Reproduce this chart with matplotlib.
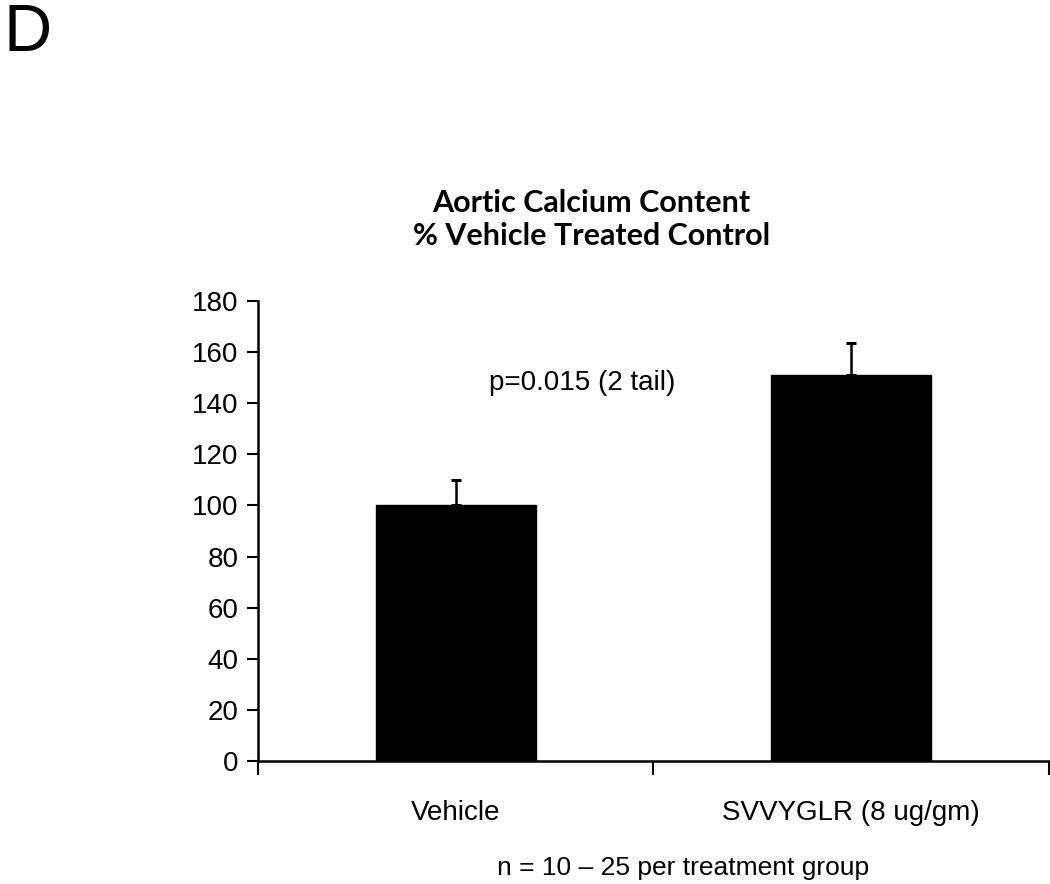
import matplotlib
matplotlib.use("Agg")
import matplotlib.pyplot as plt

groups = ["Vehicle", "SVVYGLR (8 ug/gm)"]
calcium_pct = [100, 151]
sem_upper = [10, 12.5]
y_ticks = [0, 20, 40, 60, 80, 100, 120, 140, 160, 180]

plt.rcParams["font.family"] = ["Liberation Sans", "DejaVu Sans"]

fig = plt.figure(figsize=(10.5, 8.84), dpi=100)
ax = fig.add_axes([0.2457, 0.1391, 0.7533, 0.5204])

x = list(range(len(groups)))
ax.bar(x, calcium_pct, width=0.405, color="black", edgecolor="black")
ax.errorbar(x, calcium_pct, yerr=[[0] * len(x), sem_upper], fmt="none",
            ecolor="black", elinewidth=1.8, capsize=3.5, capthick=2.2)

ax.set_xlim(-0.5, 1.5)
ax.set_ylim(0, 180)
ax.set_yticks(y_ticks)
ax.tick_params(axis="y", labelsize=20, length=8, width=1.5, direction="out", pad=6)

# boundary ticks as majors, group names as minors
ax.set_xticks([-0.5, 0.5, 1.5])
ax.set_xticklabels([])
ax.set_xticks(x, minor=True)
ax.set_xticklabels(groups, minor=True)
ax.tick_params(axis="x", which="major", length=10, width=1.5, direction="out")
ax.tick_params(axis="x", which="minor", length=0, labelsize=20, pad=28)

for side in ["top", "right"]:
    ax.spines[side].set_visible(False)
for side in ["left", "bottom"]:
    ax.spines[side].set_linewidth(1.8)

ax.text(0.32, 148, "p=0.015 (2 tail)", fontsize=20, ha="center", va="center")

fig.text(0.563, 0.770, "Aortic Calcium Content", fontsize=22, fontweight="bold",
         family=["Lato", "DejaVu Sans"], ha="center", va="center")
fig.text(0.563, 0.733, "% Vehicle Treated Control", fontsize=22, fontweight="bold",
         family=["Lato", "DejaVu Sans"], ha="center", va="center")

fig.text(0.651, 0.018, "n = 10 \u2013 25 per treatment group", fontsize=19,
         family=["Liberation Sans Narrow", "Liberation Sans", "DejaVu Sans"],
         ha="center", va="center")

fig.text(0.003, 0.997, "D", fontsize=48, ha="left", va="top")

fig.savefig("out.png", dpi=100)
plt.close(fig)
